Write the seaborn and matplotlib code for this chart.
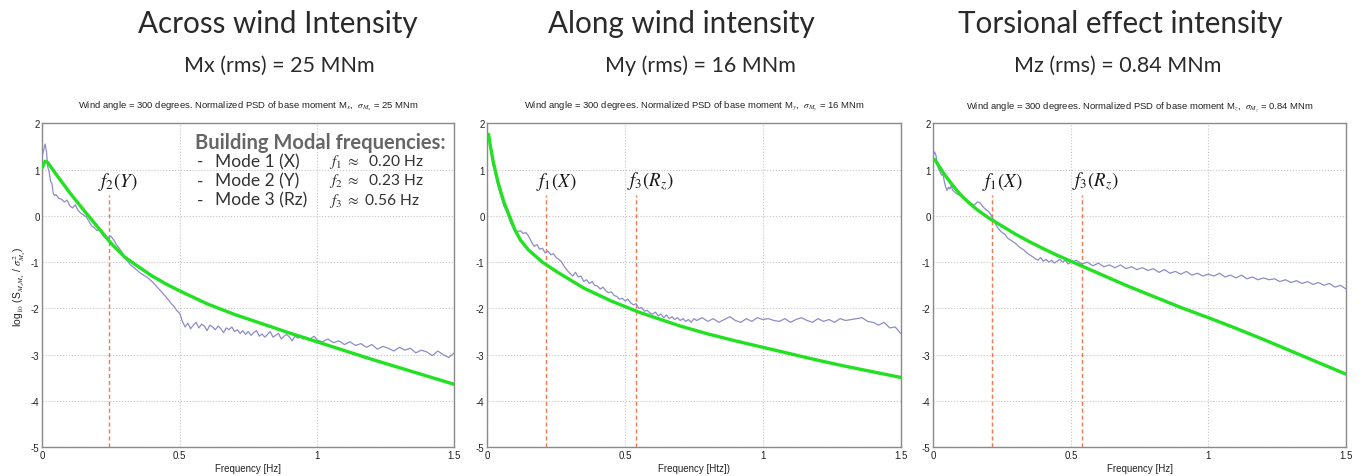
import numpy as np
import pandas as pd
import matplotlib
matplotlib.use("Agg")
import matplotlib.pyplot as plt
import seaborn as sns

# ---------------------------------------------------------------- data
titles = ["Across wind Intensity", "Along wind intensity", "Torsional effect intensity"]
rms_labels = ["Mx (rms) = 25 MNm", "My (rms) = 16 MNm", "Mz (rms) = 0.84 MNm"]
small_titles = [
    r"Wind angle = 300 degrees. Normalized PSD of base moment M$_{x}$,  $\sigma_{M_x}$ = 25 MNm",
    r"Wind angle = 300 degrees. Normalized PSD of base moment M$_{y}$,  $\sigma_{M_y}$ = 16 MNm",
    r"Wind angle = 300 degrees. Normalized PSD of base moment M$_{z}$,  $\sigma_{M_z}$ = 0.84 MNm",
]
xlabels = ["Frequency [Hz]", "Frequency [Htz])", "Frequency [Hz]"]
ylabel = r"log$_{10}$ (S$_{M_x M_x}$ / $\sigma^2_{M_x}$)"

# measured normalized PSD (log10), Mx
psd_x_f = [0.000, 0.005, 0.010, 0.015, 0.020, 0.025, 0.030, 0.035, 0.040, 0.045,
           0.050, 0.060, 0.070, 0.080, 0.090, 0.100, 0.110, 0.120, 0.130, 0.140,
           0.150, 0.160, 0.170, 0.180, 0.190, 0.200, 0.210, 0.220, 0.230, 0.240,
           0.250, 0.260, 0.270, 0.280, 0.290, 0.300, 0.320, 0.340, 0.360, 0.380,
           0.400, 0.420, 0.440, 0.460, 0.470, 0.480, 0.490, 0.500, 0.510, 0.520,
           0.530, 0.540, 0.550, 0.560, 0.570, 0.580, 0.590, 0.600, 0.610, 0.620,
           0.630, 0.640, 0.650, 0.660, 0.670, 0.680, 0.690, 0.700, 0.710, 0.720,
           0.730, 0.740, 0.750, 0.760, 0.770, 0.780, 0.790, 0.800, 0.810, 0.820,
           0.830, 0.840, 0.850, 0.860, 0.870, 0.880, 0.890, 0.900, 0.910, 0.920,
           0.930, 0.940, 0.950, 0.960, 0.970, 0.980, 0.990, 1.000, 1.020, 1.040,
           1.060, 1.080, 1.100, 1.120, 1.140, 1.160, 1.180, 1.200, 1.220, 1.240,
           1.260, 1.280, 1.300, 1.320, 1.340, 1.360, 1.380, 1.400, 1.420, 1.440,
           1.460, 1.480, 1.500]
psd_x_v = [1.30, 1.42, 1.55, 1.40, 1.05, 0.95, 0.75, 0.70, 0.48, 0.44,
           0.46, 0.38, 0.36, 0.30, 0.34, 0.22, 0.17, 0.24, 0.12, 0.06,
           0.02, -0.02, -0.12, -0.22, -0.26, -0.32, -0.30, -0.42, -0.48, -0.46,
           -0.44, -0.52, -0.62, -0.70, -0.78, -0.90, -1.05, -1.15, -1.25, -1.32,
           -1.42, -1.55, -1.68, -1.82, -1.90, -1.96, -2.05, -2.10, -2.28, -2.40,
           -2.32, -2.44, -2.36, -2.30, -2.42, -2.34, -2.38, -2.48, -2.36, -2.40,
           -2.46, -2.38, -2.44, -2.52, -2.42, -2.46, -2.40, -2.50, -2.46, -2.54,
           -2.48, -2.56, -2.50, -2.58, -2.52, -2.48, -2.60, -2.55, -2.62, -2.56,
           -2.50, -2.62, -2.58, -2.54, -2.66, -2.60, -2.56, -2.62, -2.70, -2.60,
           -2.64, -2.58, -2.66, -2.62, -2.68, -2.64, -2.60, -2.68, -2.72, -2.66,
           -2.74, -2.70, -2.78, -2.72, -2.80, -2.76, -2.84, -2.78, -2.88, -2.82,
           -2.86, -2.92, -2.84, -2.90, -2.86, -2.96, -2.90, -2.94, -3.02, -2.92,
           -3.00, -3.06, -2.96]

# fitted spectrum, Mx
fit_x_f = [0.00, 0.01, 0.02, 0.05, 0.10, 0.15, 0.20, 0.25, 0.30, 0.35, 0.40, 0.45,
           0.50, 0.60, 0.70, 0.80, 0.90, 1.00, 1.10, 1.20, 1.30, 1.40, 1.50]
fit_x_v = [1.05, 1.18, 1.15, 0.90, 0.50, 0.13, -0.23, -0.59, -0.89, -1.10, -1.30, -1.47,
           -1.62, -1.90, -2.13, -2.33, -2.53, -2.72, -2.91, -3.10, -3.28, -3.46, -3.64]

# measured normalized PSD (log10), My
psd_y_f = [0.005, 0.010, 0.015, 0.020, 0.025, 0.030, 0.040, 0.050, 0.060, 0.070,
           0.080, 0.090, 0.100, 0.110, 0.120, 0.130, 0.140, 0.150, 0.160, 0.170,
           0.180, 0.190, 0.200, 0.210, 0.220, 0.230, 0.240, 0.250, 0.260, 0.270,
           0.280, 0.290, 0.300, 0.310, 0.320, 0.330, 0.340, 0.350, 0.360, 0.370,
           0.380, 0.390, 0.400, 0.410, 0.420, 0.430, 0.440, 0.450, 0.460, 0.470,
           0.480, 0.490, 0.500, 0.510, 0.520, 0.530, 0.540, 0.550, 0.560, 0.570,
           0.580, 0.590, 0.600, 0.610, 0.620, 0.630, 0.640, 0.650, 0.660, 0.670,
           0.680, 0.690, 0.700, 0.710, 0.720, 0.730, 0.740, 0.750, 0.760, 0.780,
           0.800, 0.820, 0.840, 0.860, 0.880, 0.900, 0.920, 0.940, 0.960, 0.980,
           1.000, 1.020, 1.040, 1.060, 1.080, 1.100, 1.120, 1.140, 1.160, 1.180,
           1.200, 1.220, 1.240, 1.260, 1.280, 1.300, 1.320, 1.340, 1.360, 1.380,
           1.400, 1.420, 1.440, 1.460, 1.480, 1.500]
psd_y_v = [1.70, 1.50, 1.30, 1.10, 1.02, 0.88, 0.62, 0.42, 0.22, 0.10,
           -0.08, -0.22, -0.30, -0.34, -0.32, -0.38, -0.36, -0.44, -0.56, -0.66,
           -0.62, -0.72, -0.70, -0.80, -0.76, -0.84, -0.82, -0.90, -0.94, -1.00,
           -1.10, -1.18, -1.24, -1.30, -1.22, -1.32, -1.30, -1.42, -1.38, -1.46,
           -1.42, -1.50, -1.52, -1.58, -1.54, -1.62, -1.66, -1.64, -1.72, -1.74,
           -1.80, -1.78, -1.84, -1.80, -1.88, -1.92, -1.90, -2.00, -1.98, -2.06,
           -2.04, -2.10, -2.12, -2.08, -2.16, -2.12, -2.20, -2.14, -2.22, -2.18,
           -2.24, -2.20, -2.26, -2.22, -2.28, -2.24, -2.30, -2.22, -2.26, -2.20,
           -2.28, -2.22, -2.30, -2.24, -2.18, -2.26, -2.30, -2.22, -2.28, -2.20,
           -2.24, -2.22, -2.26, -2.28, -2.22, -2.30, -2.24, -2.20, -2.26, -2.30,
           -2.22, -2.28, -2.24, -2.30, -2.22, -2.26, -2.24, -2.22, -2.20, -2.28,
           -2.30, -2.36, -2.30, -2.42, -2.40, -2.54]

# fitted spectrum, My
fit_y_f = [0.005, 0.01, 0.02, 0.03, 0.04, 0.05, 0.06, 0.08, 0.10, 0.12, 0.15, 0.20,
           0.25, 0.30, 0.35, 0.40, 0.45, 0.50, 0.55, 0.60, 0.70, 0.80, 0.90, 1.00,
           1.10, 1.20, 1.30, 1.40, 1.50]
fit_y_v = [1.76, 1.55, 1.22, 0.95, 0.70, 0.50, 0.30, 0.00, -0.30, -0.52, -0.74, -1.00,
           -1.20, -1.38, -1.56, -1.70, -1.84, -1.96, -2.08, -2.18, -2.38, -2.55, -2.70, -2.84,
           -2.98, -3.12, -3.25, -3.37, -3.49]

# measured normalized PSD (log10), Mz
psd_z_f = [0.000, 0.005, 0.010, 0.015, 0.020, 0.025, 0.030, 0.035, 0.040, 0.045,
           0.050, 0.055, 0.060, 0.065, 0.070, 0.080, 0.090, 0.100, 0.110, 0.120,
           0.130, 0.140, 0.150, 0.160, 0.170, 0.180, 0.190, 0.200, 0.210, 0.220,
           0.230, 0.240, 0.250, 0.260, 0.270, 0.280, 0.290, 0.300, 0.310, 0.320,
           0.330, 0.340, 0.350, 0.360, 0.370, 0.380, 0.390, 0.400, 0.410, 0.420,
           0.430, 0.440, 0.450, 0.460, 0.470, 0.480, 0.490, 0.500, 0.520, 0.540,
           0.560, 0.580, 0.600, 0.620, 0.640, 0.660, 0.680, 0.700, 0.720, 0.740,
           0.760, 0.780, 0.800, 0.820, 0.840, 0.860, 0.880, 0.900, 0.920, 0.940,
           0.960, 0.980, 1.000, 1.020, 1.040, 1.060, 1.080, 1.100, 1.120, 1.140,
           1.160, 1.180, 1.200, 1.220, 1.240, 1.260, 1.280, 1.300, 1.320, 1.340,
           1.360, 1.380, 1.400, 1.420, 1.440, 1.460, 1.480, 1.500]
psd_z_v = [1.30, 1.38, 1.30, 1.10, 1.00, 0.95, 0.88, 0.90, 0.75, 0.62,
           0.55, 0.62, 0.58, 0.65, 0.56, 0.50, 0.46, 0.44, 0.40, 0.34,
           0.30, 0.26, 0.24, 0.30, 0.28, 0.20, 0.14, 0.10, 0.02, -0.10,
           -0.22, -0.30, -0.36, -0.40, -0.48, -0.52, -0.56, -0.60, -0.66, -0.70,
           -0.74, -0.80, -0.84, -0.88, -0.92, -0.96, -0.90, -0.98, -0.94, -1.00,
           -0.96, -1.02, -0.98, -0.94, -1.00, -0.96, -1.04, -1.00, -0.96, -1.04,
           -1.00, -1.08, -1.02, -1.10, -1.06, -1.12, -1.06, -1.14, -1.10, -1.16,
           -1.12, -1.18, -1.14, -1.22, -1.16, -1.24, -1.20, -1.26, -1.20, -1.28,
           -1.24, -1.30, -1.26, -1.30, -1.24, -1.32, -1.28, -1.34, -1.28, -1.36,
           -1.32, -1.38, -1.34, -1.38, -1.36, -1.42, -1.38, -1.44, -1.40, -1.46,
           -1.42, -1.48, -1.44, -1.50, -1.46, -1.54, -1.50, -1.58]

# fitted spectrum, Mz
fit_z_f = [0.005, 0.02, 0.04, 0.06, 0.08, 0.10, 0.13, 0.16, 0.20, 0.25, 0.30, 0.35,
           0.40, 0.45, 0.50, 0.55, 0.60, 0.70, 0.80, 0.90, 1.00, 1.10, 1.20, 1.30,
           1.40, 1.50]
fit_z_v = [1.22, 1.08, 0.90, 0.74, 0.59, 0.45, 0.28, 0.13, -0.04, -0.22, -0.40, -0.56,
           -0.71, -0.85, -0.98, -1.11, -1.24, -1.50, -1.74, -1.98, -2.20, -2.43, -2.67, -2.92,
           -3.17, -3.42]

# modal frequency markers per panel: (frequency, label, label x)
markers = [
    [(0.243, r"$f_2(Y)$", 0.276)],
    [(0.213, r"$f_1(X)$", 0.25), (0.54, r"$f_3(R_z)$", 0.59)],
    [(0.215, r"$f_1(X)$", 0.25), (0.54, r"$f_3(R_z)$", 0.59)],
]

modal_rows = [("Mode 1 (X)", r"$f_1$ $\approx$  0.20 Hz"),
              ("Mode 2 (Y)", r"$f_2$ $\approx$  0.23 Hz"),
              ("Mode 3 (Rz)", r"$f_3$ $\approx$ 0.56 Hz")]

psd_sets = [(psd_x_f, psd_x_v), (psd_y_f, psd_y_v), (psd_z_f, psd_z_v)]
fit_sets = [(fit_x_f, fit_x_v), (fit_y_f, fit_y_v), (fit_z_f, fit_z_v)]

# ---------------------------------------------------------------- style
sns.set_theme(style="white")
plt.rcParams["font.family"] = ["Liberation Sans", "DejaVu Sans"]
plt.rcParams["axes.unicode_minus"] = False
plt.rcParams["mathtext.fontset"] = "stix"

W, H = 1364, 477
fig = plt.figure(figsize=(W / 100, H / 100), dpi=100)

lefts = [42.3, 487.3, 933.3]
widths = [412.0, 413.4, 412.7]
top_px, bot_px = 124.3, 448.3
title_cx = [278, 681, 1120]
rms_cx = [279, 700, 1118]

psd_color = "#8c8cc8"
fit_color = "#22e022"
mark_color = "#f07a55"
title_font = ["Lato", "DejaVu Sans"]

for i in range(3):
    ax = fig.add_axes([lefts[i] / W, 1 - bot_px / H, widths[i] / W, (bot_px - top_px) / H])
    pf, pv = psd_sets[i]
    ff, fv = fit_sets[i]
    sns.lineplot(data=pd.DataFrame({"f": pf, "v": pv}), x="f", y="v", ax=ax,
                 color=psd_color, lw=0.9, zorder=3)
    sns.lineplot(data=pd.DataFrame({"f": ff, "v": fv}), x="f", y="v", ax=ax,
                 color=fit_color, lw=2.4, zorder=4)

    ax.set_xlim(0, 1.5)
    ax.set_ylim(-5, 2)
    ax.set_xticks([0, 0.5, 1, 1.5])
    ax.set_xticklabels(["0", "0.5", "1", "1.5"])
    ax.set_yticks(range(-5, 3))
    ax.set_yticklabels([str(v) for v in range(-5, 3)])
    ax.tick_params(direction="in", length=3, width=0.6, labelsize=7,
                   colors="#888888", labelcolor="#222222", pad=2)
    ax.grid(True, ls=":", lw=0.8, color="#c4c4c4")
    for s in ax.spines.values():
        s.set_color("#8a8a8a")
        s.set_linewidth(1.0)
    ax.set_xlabel(xlabels[i], fontsize=7, color="#222222", labelpad=2)
    if i == 0:
        ax.set_ylabel(ylabel, fontsize=7.5, color="#222222", labelpad=2)
    else:
        ax.set_ylabel("")
    ax.set_title(small_titles[i], fontsize=6.8, color="#222222", pad=11)

    for fm, lab, lx in markers[i]:
        ax.vlines(fm, -5, 0.45, colors=mark_color, linestyles=(0, (3, 2)), lw=1.0, zorder=2)
        ax.text(lx, 0.75, lab, fontsize=13.5, ha="center", va="center", color="#1a1a1a")

    if i == 0:
        ax.text(0.371, 0.942, "Building Modal frequencies:", transform=ax.transAxes,
                fontsize=14.5, fontweight="bold", color="#666666", va="center",
                family=title_font)
        for r, (mode, freq) in enumerate(modal_rows):
            yy = 0.884 - r * 0.060
            ax.text(0.375, yy, "-", transform=ax.transAxes, fontsize=12.5,
                    color="#333333", va="center", family=title_font)
            ax.text(0.42, yy, mode, transform=ax.transAxes, fontsize=12.5,
                    color="#333333", va="center", family=title_font)
            ax.text(0.695, yy, freq, transform=ax.transAxes, fontsize=11.2,
                    color="#333333", va="center", family=title_font)

    fig.text(title_cx[i] / W, 1 - 24 / H, titles[i], fontsize=21.3, ha="center",
             va="center", color="#2a2a2a", family=title_font)
    fig.text(rms_cx[i] / W, 1 - 66 / H, rms_labels[i], fontsize=15.5, ha="center",
             va="center", color="#2a2a2a", family=title_font)

fig.savefig("out.png", dpi=100)
